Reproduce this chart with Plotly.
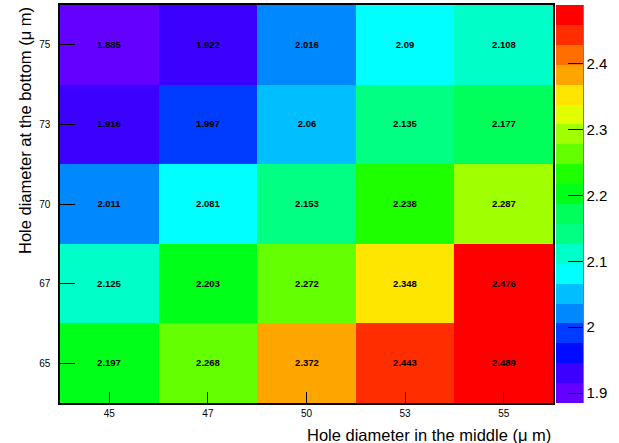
import plotly.graph_objects as go

x_labels = ["45", "47", "50", "53", "55"]
y_labels = ["65", "67", "70", "73", "75"]
# rows: y = 65, 67, 70, 73, 75 ; columns: x = 45, 47, 50, 53, 55
z_values = [
    [2.197, 2.268, 2.372, 2.443, 2.489],
    [2.125, 2.203, 2.272, 2.348, 2.476],
    [2.011, 2.081, 2.153, 2.238, 2.287],
    [1.916, 1.997, 2.060, 2.135, 2.177],
    [1.885, 1.922, 2.016, 2.090, 2.108],
]
z_text = [
    ["2.197", "2.268", "2.372", "2.443", "2.489"],
    ["2.125", "2.203", "2.272", "2.348", "2.476"],
    ["2.011", "2.081", "2.153", "2.238", "2.287"],
    ["1.916", "1.997", "2.06", "2.135", "2.177"],
    ["1.885", "1.922", "2.016", "2.09", "2.108"],
]
cbar_ticks = [1.9, 2.0, 2.1, 2.2, 2.3, 2.4]
cbar_ticktext = ["1.9", "2", "2.1", "2.2", "2.3", "2.4"]

# ROOT-like palette, 20 contour bands, bottom -> top
band_colors = [
    "rgb(100,0,255)", "rgb(60,0,255)", "rgb(0,10,255)", "rgb(0,60,255)",
    "rgb(0,136,255)", "rgb(0,190,255)", "rgb(0,255,255)", "rgb(0,255,200)",
    "rgb(0,255,130)", "rgb(0,255,90)", "rgb(0,255,25)", "rgb(30,255,0)",
    "rgb(100,255,0)", "rgb(160,255,0)", "rgb(225,255,0)", "rgb(255,230,0)",
    "rgb(255,165,0)", "rgb(255,110,0)", "rgb(255,45,0)", "rgb(255,0,0)",
]
n = len(band_colors)
colorscale = []
for i, c in enumerate(band_colors):
    colorscale.append([i / n, c])
    colorscale.append([(i + 1) / n, c])

zmin = 1.885
zmax = 2.489

font_family = "Liberation Sans, Arial, sans-serif"

fig = go.Figure(
    go.Heatmap(
        x=x_labels,
        y=y_labels,
        z=z_values,
        text=z_text,
        texttemplate="<b>%{text}</b>",
        textfont=dict(family=font_family, size=9.5, color="black"),
        colorscale=colorscale,
        zmin=zmin,
        zmax=zmax,
        xgap=0,
        ygap=0,
        colorbar=dict(
            x=1.0061,
            xanchor="left",
            xpad=0,
            ypad=0,
            y=0.5,
            yanchor="middle",
            len=1.0,
            lenmode="fraction",
            thickness=27,
            thicknessmode="pixels",
            outlinewidth=0,
            ticks="inside",
            ticklen=15,
            tickwidth=1.3,
            tickcolor="black",
            tickvals=cbar_ticks,
            ticktext=cbar_ticktext,
            tickfont=dict(family=font_family, size=15, color="black"),
        ),
        hoverinfo="skip",
    )
)

fig.update_xaxes(
    type="category",
    showline=True, linecolor="black", linewidth=1.5, mirror=True,
    ticks="inside", ticklen=11, tickwidth=1.2, tickcolor="black",
    tickfont=dict(family=font_family, size=10, color="black"),
    showgrid=False, zeroline=False, automargin=False,
)
fig.update_yaxes(
    type="category",
    showline=True, linecolor="black", linewidth=1.5, mirror=True,
    ticks="inside", ticklen=15, tickwidth=1.2, tickcolor="black",
    tickfont=dict(family=font_family, size=10, color="black"),
    ticklabelstandoff=6,
    showgrid=False, zeroline=False, automargin=False,
)

fig.update_layout(
    width=619,
    height=443,
    margin=dict(l=60, r=66, t=5, b=40, autoexpand=False),
    paper_bgcolor="white",
    plot_bgcolor="white",
    showlegend=False,
    annotations=[
        dict(
            text="Hole diameter in the middle (\u03bc m)",
            xref="paper", yref="paper",
            x=1.0, y=-0.053,
            xanchor="right", yanchor="top",
            showarrow=False,
            font=dict(family=font_family, size=16.5, color="black"),
        ),
        dict(
            text="Hole diameter at the bottom (\u03bc m)",
            xref="paper", yref="paper",
            x=-0.072, y=1.0,
            xanchor="center", yanchor="top",
            textangle=-90,
            showarrow=False,
            font=dict(family=font_family, size=16.5, color="black"),
        ),
    ],
    shapes=[
        dict(
            type="line", xref="paper", yref="paper",
            x0=1.0609, x1=1.0609, y0=0, y1=1,
            line=dict(color="black", width=1),
        )
    ],
)

fig.write_html(
    "out.html",
    config={"displayModeBar": False},
    post_script="document.body.style.margin='0px';document.body.style.padding='0px';",
)
